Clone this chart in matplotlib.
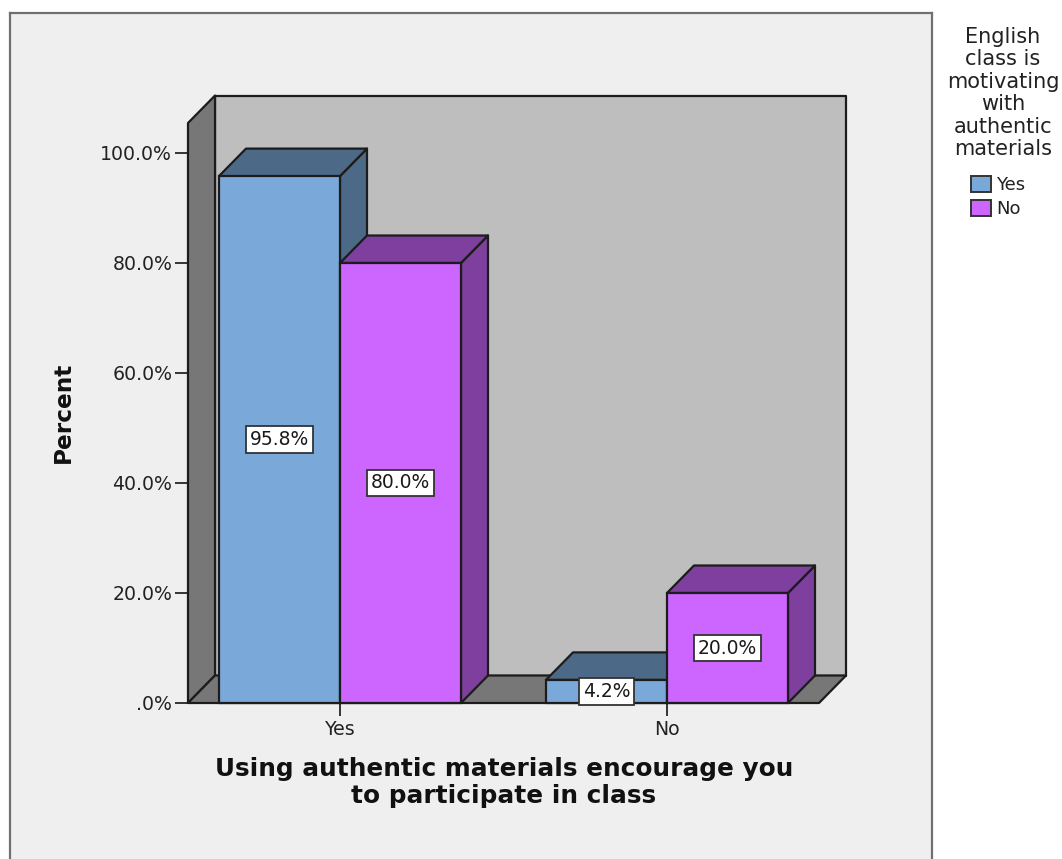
import matplotlib
matplotlib.use("Agg")
import matplotlib.pyplot as plt
from matplotlib.patches import Rectangle, Polygon
from matplotlib.lines import Line2D

plt.rcParams['font.family'] = ['DejaVu Sans']

categories = ["Yes", "No"]
series_names = ["Yes", "No"]
values_yes = [95.8, 4.2]
values_no = [80.0, 20.0]
y_ticks = [0, 20, 40, 60, 80, 100]
y_tick_labels = [".0%", "20.0%", "40.0%", "60.0%", "80.0%", "100.0%"]
x_label = "Using authentic materials encourage you\nto participate in class"
y_label = "Percent"
legend_title = "English\nclass is\nmotivating\nwith\nauthentic\nmaterials"

W, H = 1062, 859
EDGE = "#1c1c1c"
BLUE, BLUE_D = "#7AA8D8", "#4C6A88"
PURP, PURP_D = "#CC66FF", "#7F3F9F"

fig = plt.figure(figsize=(W / 100, H / 100), dpi=100, facecolor="white")

# outer panel
fig.add_artist(Rectangle((10 / W, 0), (932 - 10) / W, 1 - 13 / H, transform=fig.transFigure,
                         facecolor="#EFEFEF", edgecolor="none", zorder=-5))
for xs, ys in [((10, 10), (859, 13)), ((10, 932), (13, 13)), ((932, 932), (13, 859))]:
    fig.add_artist(Line2D([x / W for x in xs], [1 - y / H for y in ys], color="#707070", lw=1.6,
                          transform=fig.transFigure, zorder=-4))

ax = fig.add_axes([188 / W, (H - 703) / H, 631 / W, 550 / H])
ax.patch.set_alpha(0)
ax.set_xlim((188 - 340) / 327, (819 - 340) / 327)
ax.set_ylim(0, 100)
for s in ax.spines.values():
    s.set_visible(False)

DX = 27 / 327
DY = 5.0
XL, XR = ax.get_xlim()
YT = 105.45
LW = 1.6


def poly(points, fc, z=2):
    ax.add_patch(Polygon(points, closed=True, facecolor=fc, edgecolor=EDGE, lw=LW,
                         joinstyle="round", clip_on=False, zorder=z))


# walls and floor
poly([(XL + DX, DY), (XR + DX, DY), (XR + DX, YT + DY), (XL + DX, YT + DY)], "#BEBEBE")
poly([(XL, 0), (XL + DX, DY), (XL + DX, YT + DY), (XL, YT)], "#777777")
poly([(XL, 0), (XR, 0), (XR + DX, DY), (XL + DX, DY)], "#777777")

# bars
BW = 121 / 327
for i, (vy, vn) in enumerate(zip(values_yes, values_no)):
    for x0, v, fc, dk in [(i - BW, vy, BLUE, BLUE_D), (i, vn, PURP, PURP_D)]:
        poly([(x0 + BW, 0), (x0 + BW + DX, DY), (x0 + BW + DX, v + DY), (x0 + BW, v)], dk, 3)
        poly([(x0, v), (x0 + BW, v), (x0 + BW + DX, v + DY), (x0 + DX, v + DY)], dk, 3)
        ax.add_patch(Rectangle((x0, 0), BW, v, facecolor=fc, edgecolor=EDGE, lw=LW, zorder=3,
                               clip_on=False))
        ax.text(x0 + BW / 2, v / 2, f"{v:.1f}%", ha="center", va="center", fontsize=13.5,
                color="#1a1a1a", zorder=6, clip_on=False,
                bbox=dict(boxstyle="square,pad=0.2", facecolor="white", edgecolor="#333333", lw=1.3))

ax.set_xticks(range(len(categories)), categories)
ax.set_yticks(y_ticks, y_tick_labels)
ax.tick_params(axis="both", length=9.4, width=1.4, color="#333333", labelcolor="#222222",
               labelsize=13.6, pad=2)
ax.tick_params(axis="x", pad=3)
ax.set_xlabel(x_label, fontsize=17.8, fontweight="bold", color="#111111", labelpad=13,
              linespacing=1.13)
ax.xaxis.get_label().set_x((504 - 188) / 631)
ax.set_ylabel(y_label, fontsize=16.7, fontweight="bold", color="#111111", labelpad=18)
ax.yaxis.get_label().set_y((703 - 412) / 550)

# legend
fig.text(1003 / W, 1 - 27 / H, legend_title, ha="center", va="top", fontsize=15, color="#222222",
         linespacing=1.15)
handles = [Rectangle((0, 0), 1, 1, facecolor=BLUE, edgecolor="#333333", lw=1.4),
           Rectangle((0, 0), 1, 1, facecolor=PURP, edgecolor="#333333", lw=1.4)]
fig.legend(handles, series_names, loc="upper left", bbox_to_anchor=(967 / W, 1 - 172 / H),
           frameon=False, fontsize=13, handlelength=1.15, handleheight=1.0, handletextpad=0.25,
           labelspacing=0.35, borderpad=0.2, borderaxespad=0, labelcolor="#222222")

fig.savefig("out.png", dpi=100)
